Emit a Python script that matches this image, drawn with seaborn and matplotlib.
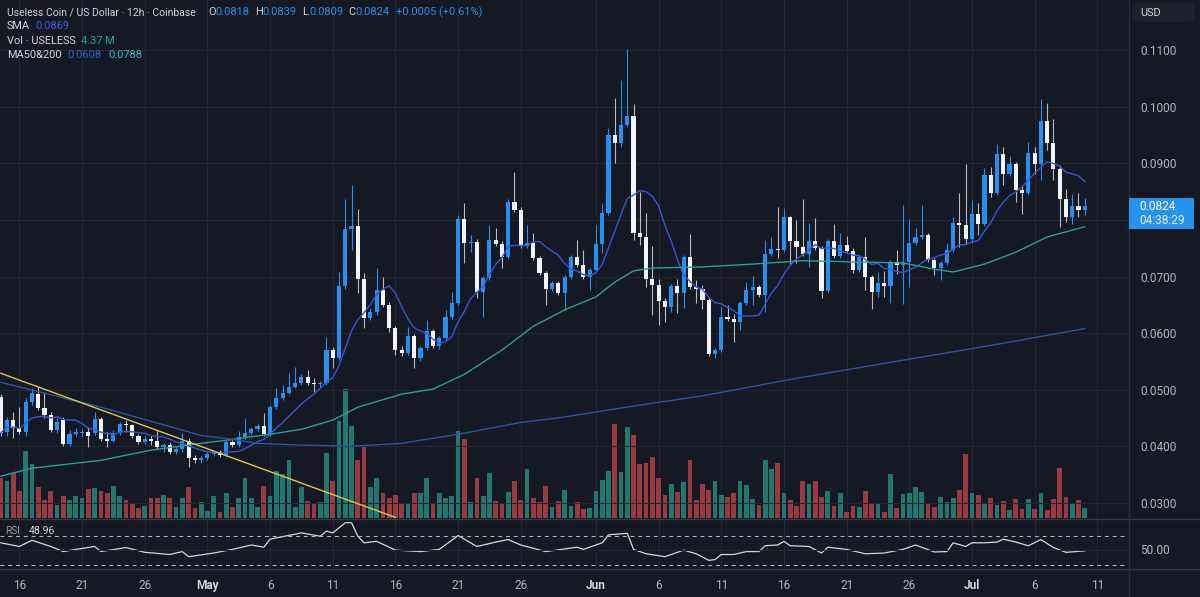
import numpy as np
import pandas as pd
import seaborn as sns
import matplotlib
matplotlib.use("Agg")
import matplotlib.pyplot as plt
from matplotlib.lines import Line2D
from matplotlib.patches import Rectangle, FancyBboxPatch

# ---- USELESS/USD 12h candles, 14 Apr 12:00 -> 10 Jul 00:00 ----
first_candle = "2025-04-14 12:00"

opens = [
    0.0487, 0.0425, 0.0446, 0.0432, 0.0425, 0.0478, 0.0492, 0.0467, 0.0455, 0.0428,
    0.0446, 0.0404, 0.0421, 0.0423, 0.0425, 0.0423, 0.0448, 0.0412, 0.0410, 0.0423,
    0.0439, 0.0437, 0.0418, 0.0407, 0.0412, 0.0410, 0.0398, 0.0402, 0.0389, 0.0395,
    0.0410, 0.0379, 0.0375, 0.0379, 0.0386, 0.0389, 0.0384, 0.0407, 0.0402, 0.0416,
    0.0423, 0.0430, 0.0435, 0.0421, 0.0469, 0.0485, 0.0494, 0.0504, 0.0512, 0.0522,
    0.0512, 0.0510, 0.0512, 0.0570, 0.0556, 0.0683, 0.0784, 0.0789, 0.0696, 0.0627,
    0.0637, 0.0676, 0.0650, 0.0609, 0.0570, 0.0565, 0.0595, 0.0556, 0.0574, 0.0604,
    0.0577, 0.0591, 0.0628, 0.0653, 0.0802, 0.0759, 0.0761, 0.0673, 0.0697, 0.0765,
    0.0758, 0.0735, 0.0832, 0.0818, 0.0754, 0.0759, 0.0733, 0.0706, 0.0678, 0.0689,
    0.0671, 0.0699, 0.0735, 0.0720, 0.0699, 0.0712, 0.0758, 0.0812, 0.0950, 0.0936,
    0.0968, 0.0984, 0.0777, 0.0770, 0.0696, 0.0685, 0.0657, 0.0646, 0.0683, 0.0671,
    0.0735, 0.0681, 0.0678, 0.0658, 0.0563, 0.0570, 0.0628, 0.0625, 0.0619, 0.0653,
    0.0676, 0.0681, 0.0667, 0.0740, 0.0749, 0.0747, 0.0805, 0.0763, 0.0752, 0.0740,
    0.0763, 0.0751, 0.0674, 0.0763, 0.0736, 0.0756, 0.0745, 0.0712, 0.0735, 0.0699,
    0.0673, 0.0689, 0.0683, 0.0726, 0.0720, 0.0726, 0.0759, 0.0770, 0.0773, 0.0729,
    0.0715, 0.0724, 0.0747, 0.0795, 0.0791, 0.0766, 0.0811, 0.0793, 0.0880, 0.0848,
    0.0917, 0.0881, 0.0899, 0.0853, 0.0848, 0.0919, 0.0899, 0.0975, 0.0936, 0.0890,
    0.0837, 0.0805, 0.0825, 0.0818,
]
closes = [
    0.0423, 0.0446, 0.0432, 0.0425, 0.0478, 0.0494, 0.0467, 0.0455, 0.0428, 0.0442,
    0.0404, 0.0421, 0.0425, 0.0425, 0.0418, 0.0448, 0.0412, 0.0410, 0.0423, 0.0439,
    0.0437, 0.0418, 0.0407, 0.0412, 0.0410, 0.0398, 0.0402, 0.0389, 0.0395, 0.0410,
    0.0379, 0.0375, 0.0379, 0.0386, 0.0389, 0.0384, 0.0407, 0.0402, 0.0416, 0.0423,
    0.0430, 0.0435, 0.0421, 0.0469, 0.0485, 0.0494, 0.0504, 0.0512, 0.0522, 0.0512,
    0.0510, 0.0512, 0.0570, 0.0556, 0.0683, 0.0784, 0.0789, 0.0696, 0.0627, 0.0637,
    0.0676, 0.0650, 0.0609, 0.0570, 0.0565, 0.0595, 0.0556, 0.0574, 0.0604, 0.0577,
    0.0591, 0.0628, 0.0653, 0.0802, 0.0759, 0.0761, 0.0673, 0.0697, 0.0765, 0.0758,
    0.0735, 0.0832, 0.0818, 0.0754, 0.0759, 0.0733, 0.0706, 0.0678, 0.0689, 0.0671,
    0.0699, 0.0735, 0.0720, 0.0699, 0.0712, 0.0758, 0.0812, 0.0950, 0.0936, 0.0968,
    0.0984, 0.0777, 0.0770, 0.0696, 0.0685, 0.0657, 0.0646, 0.0683, 0.0671, 0.0735,
    0.0681, 0.0678, 0.0658, 0.0563, 0.0570, 0.0628, 0.0625, 0.0619, 0.0653, 0.0676,
    0.0681, 0.0667, 0.0740, 0.0749, 0.0747, 0.0805, 0.0763, 0.0752, 0.0740, 0.0763,
    0.0751, 0.0674, 0.0763, 0.0736, 0.0756, 0.0745, 0.0712, 0.0735, 0.0699, 0.0673,
    0.0689, 0.0683, 0.0726, 0.0720, 0.0726, 0.0759, 0.0770, 0.0773, 0.0729, 0.0715,
    0.0724, 0.0747, 0.0795, 0.0791, 0.0766, 0.0811, 0.0793, 0.0880, 0.0848, 0.0917,
    0.0881, 0.0899, 0.0853, 0.0848, 0.0919, 0.0899, 0.0975, 0.0936, 0.0890, 0.0837,
    0.0805, 0.0825, 0.0818, 0.0824,
]
highs = [
    0.0492, 0.0451, 0.0460, 0.0469, 0.0485, 0.0503, 0.0504, 0.0496, 0.0460, 0.0450,
    0.0451, 0.0428, 0.0432, 0.0430, 0.0434, 0.0460, 0.0451, 0.0425, 0.0428, 0.0442,
    0.0446, 0.0439, 0.0421, 0.0418, 0.0419, 0.0428, 0.0405, 0.0407, 0.0398, 0.0423,
    0.0414, 0.0384, 0.0382, 0.0389, 0.0393, 0.0393, 0.0411, 0.0411, 0.0427, 0.0450,
    0.0434, 0.0439, 0.0458, 0.0473, 0.0503, 0.0508, 0.0529, 0.0540, 0.0527, 0.0534,
    0.0520, 0.0515, 0.0593, 0.0575, 0.0708, 0.0837, 0.0862, 0.0819, 0.0707, 0.0644,
    0.0715, 0.0699, 0.0655, 0.0612, 0.0577, 0.0611, 0.0598, 0.0577, 0.0623, 0.0607,
    0.0595, 0.0641, 0.0673, 0.0809, 0.0830, 0.0773, 0.0766, 0.0701, 0.0791, 0.0786,
    0.0763, 0.0837, 0.0885, 0.0823, 0.0791, 0.0777, 0.0736, 0.0710, 0.0692, 0.0692,
    0.0703, 0.0738, 0.0765, 0.0747, 0.0715, 0.0791, 0.0830, 0.0963, 0.1016, 0.1048,
    0.1103, 0.1005, 0.0850, 0.0812, 0.0754, 0.0696, 0.0662, 0.0687, 0.0696, 0.0738,
    0.0775, 0.0694, 0.0685, 0.0662, 0.0574, 0.0646, 0.0650, 0.0634, 0.0657, 0.0690,
    0.0701, 0.0685, 0.0765, 0.0770, 0.0823, 0.0821, 0.0807, 0.0800, 0.0837, 0.0795,
    0.0804, 0.0754, 0.0766, 0.0793, 0.0777, 0.0772, 0.0751, 0.0738, 0.0770, 0.0703,
    0.0708, 0.0710, 0.0729, 0.0747, 0.0827, 0.0802, 0.0786, 0.0827, 0.0777, 0.0733,
    0.0728, 0.0759, 0.0805, 0.0848, 0.0899, 0.0835, 0.0830, 0.0892, 0.0894, 0.0935,
    0.0929, 0.0913, 0.0903, 0.0860, 0.0938, 0.0929, 0.1014, 0.1007, 0.0979, 0.0897,
    0.0855, 0.0846, 0.0848, 0.0839,
]
lows = [
    0.0418, 0.0418, 0.0414, 0.0421, 0.0418, 0.0473, 0.0464, 0.0450, 0.0425, 0.0423,
    0.0400, 0.0400, 0.0418, 0.0418, 0.0398, 0.0419, 0.0409, 0.0398, 0.0407, 0.0419,
    0.0425, 0.0414, 0.0404, 0.0404, 0.0402, 0.0395, 0.0389, 0.0386, 0.0386, 0.0389,
    0.0363, 0.0371, 0.0371, 0.0375, 0.0382, 0.0381, 0.0381, 0.0398, 0.0398, 0.0412,
    0.0419, 0.0427, 0.0418, 0.0418, 0.0465, 0.0481, 0.0492, 0.0503, 0.0508, 0.0508,
    0.0496, 0.0503, 0.0508, 0.0538, 0.0552, 0.0678, 0.0747, 0.0671, 0.0609, 0.0623,
    0.0632, 0.0646, 0.0602, 0.0561, 0.0559, 0.0561, 0.0538, 0.0550, 0.0570, 0.0574,
    0.0572, 0.0588, 0.0625, 0.0650, 0.0724, 0.0743, 0.0662, 0.0628, 0.0694, 0.0754,
    0.0715, 0.0731, 0.0814, 0.0751, 0.0751, 0.0729, 0.0703, 0.0650, 0.0674, 0.0667,
    0.0641, 0.0696, 0.0717, 0.0696, 0.0676, 0.0708, 0.0742, 0.0809, 0.0901, 0.0929,
    0.0965, 0.0765, 0.0756, 0.0681, 0.0632, 0.0614, 0.0619, 0.0637, 0.0635, 0.0644,
    0.0678, 0.0653, 0.0643, 0.0559, 0.0556, 0.0566, 0.0621, 0.0584, 0.0605, 0.0650,
    0.0650, 0.0664, 0.0637, 0.0736, 0.0733, 0.0743, 0.0720, 0.0724, 0.0736, 0.0717,
    0.0747, 0.0662, 0.0671, 0.0733, 0.0733, 0.0742, 0.0706, 0.0708, 0.0676, 0.0643,
    0.0664, 0.0664, 0.0653, 0.0704, 0.0651, 0.0681, 0.0756, 0.0766, 0.0726, 0.0703,
    0.0694, 0.0720, 0.0743, 0.0752, 0.0758, 0.0759, 0.0773, 0.0789, 0.0841, 0.0845,
    0.0862, 0.0878, 0.0832, 0.0811, 0.0845, 0.0881, 0.0871, 0.0924, 0.0871, 0.0788,
    0.0797, 0.0793, 0.0805, 0.0809,
]
# volume, millions of USELESS
volumes = [
    18, 16.5, 20, 12, 30, 24, 14, 8, 12, 6,
    10, 8, 10, 9, 13, 13.5, 12, 11, 14.5, 10,
    8, 6.5, 4.5, 5.5, 9, 9, 10.5, 9, 5, 9,
    14, 4.5, 7, 3, 10, 2.5, 11, 5, 9, 18,
    9, 5, 14.5, 10, 21, 19.5, 26, 5, 14, 7.5,
    6.5, 7, 29, 16.5, 43.5, 58, 41, 26, 32, 14,
    18, 11, 9, 10.5, 6.5, 6.5, 11, 11, 18, 6.5,
    11, 9, 10, 39, 35.5, 7, 18, 10, 20, 7.5,
    6.5, 11.5, 16.5, 8, 22, 9, 7, 14.5, 5, 7.5,
    12.7, 5.4, 7.2, 4, 4.4, 12, 16.8, 21, 42, 20.7,
    40.9, 37.2, 24, 24.7, 27.3, 18, 10.5, 15.3, 11.7, 16,
    26, 7.9, 15.2, 12.7, 16.6, 10.5, 9.3, 11, 16.4, 14.6,
    8.3, 5.7, 25.8, 21.9, 24.8, 11.2, 7.9, 5.4, 16.6, 15.3,
    16.6, 9.3, 12.3, 5.4, 11, 2.5, 5.4, 5, 12, 6.6,
    6.4, 2.9, 19.7, 4.7, 10.8, 11.2, 13.7, 11.7, 6.9, 5,
    9.3, 7.2, 9, 12.7, 28.8, 11.2, 10.2, 6.9, 9, 5.8,
    7.6, 3.7, 8.6, 4.2, 8.6, 3.9, 11.2, 3.5, 8.3, 22.6,
    9.3, 6.9, 8, 4.37,
]

# moving averages (candle number -> value)
ma50_candle = [0, 5, 16, 24, 32, 37, 43, 48, 53, 57, 64, 69, 74, 80, 85, 90, 95, 98,
               101, 104, 112, 120, 128, 136, 144, 149, 152, 157, 162, 167, 173]
ma50_value = [0.0347, 0.0361, 0.0375, 0.0393, 0.0405, 0.0412, 0.0421, 0.0430, 0.0446,
              0.0469, 0.0492, 0.0501, 0.0527, 0.0570, 0.0612, 0.0641, 0.0664, 0.0690,
              0.0710, 0.0715, 0.0717, 0.0722, 0.0728, 0.0726, 0.0724, 0.0713, 0.0708,
              0.0722, 0.0743, 0.0770, 0.0788]
ma200_candle = [0, 16, 32, 37, 41, 48, 56, 64, 74, 83, 89, 97, 104, 112, 128, 144, 160, 173]
ma200_value = [0.0513, 0.0469, 0.0419, 0.0412, 0.0405, 0.0402, 0.0400, 0.0405, 0.0423,
               0.0442, 0.0450, 0.0464, 0.0476, 0.0489, 0.0522, 0.0552, 0.0582, 0.0608]

# RSI(14)
rsi_candle = [0, 3, 5, 8, 10, 12, 15, 16, 20, 23, 27, 29, 30, 34, 37, 40, 42, 43, 48, 51,
              52, 53, 55, 56, 57, 58, 60, 63, 67, 70, 73, 76, 79, 81, 83, 87, 92, 93, 96,
              97, 100, 101, 103, 106, 107, 109, 111, 113, 114, 115, 117, 119, 121, 122,
              124, 125, 126, 129, 131, 132, 135, 138, 141, 144, 146, 149, 151, 152, 154,
              155, 157, 159, 160, 162, 164, 166, 168, 170, 173]
rsi_value = [60, 55, 63.5, 55, 48, 51, 55, 48, 53.5, 47, 44, 48, 41, 46, 51, 57, 54, 65,
             73.6, 69, 76, 73.6, 87.5, 87.5, 69, 60, 62, 50, 48, 51, 70, 55, 61, 64.5, 57,
             48, 54, 51, 60, 71, 73, 51, 45, 41, 44, 50, 45, 36, 37, 44, 44, 48, 48, 56,
             57, 62, 56, 55, 46, 54, 51, 45, 46, 51, 57, 47.5, 48, 60, 55, 60, 60, 61, 65,
             61, 56, 64.5, 53.5, 47, 48.96]

# descending trendline drawn on the chart (candle number, price)
trend_candle = [0, 63]
trend_price = [0.0529, 0.0274]

tick_dates = ["2025-04-16", "2025-04-21", "2025-04-26", "2025-05-01", "2025-05-06",
              "2025-05-11", "2025-05-16", "2025-05-21", "2025-05-26", "2025-06-01",
              "2025-06-06", "2025-06-11", "2025-06-16", "2025-06-21", "2025-06-26",
              "2025-07-01", "2025-07-06", "2025-07-11"]
tick_labels = ["16", "21", "26", "May", "6", "11", "16", "21", "26", "Jun",
               "6", "11", "16", "21", "26", "Jul", "6", "11"]
price_ticks = [0.03, 0.04, 0.05, 0.06, 0.07, 0.08, 0.09, 0.10, 0.11]

# ---- colours ----
BG = "#151924"
GRID = "#232733"
UP = "#2590f0"
DOWN = "#f0f3fa"
DOWN_WICK = "#b8bbc3"
VOL_UP = "#22786f"
VOL_DOWN = "#993a40"
TXT = "#d1d4dc"
AXTXT = "#b2b5be"

df = pd.DataFrame({"open": opens, "high": highs, "low": lows,
                   "close": closes, "volume": volumes})
df["time"] = pd.date_range(first_candle, periods=len(df), freq="12h")
df["pos"] = np.arange(len(df))
df["up"] = df["close"] >= df["open"]
df["sma9"] = df["close"].rolling(9, min_periods=1).mean()

t0 = df["time"].iloc[0]
tick_pos = (pd.to_datetime(tick_dates) - t0) / pd.Timedelta("12h")

sns.set_theme(style="dark")
plt.rcParams["font.family"] = ["Roboto", "DejaVu Sans"]

W, H = 1200, 597
fig = plt.figure(figsize=(W / 100, H / 100), dpi=100, facecolor=BG)

def fx(px):
    return px / W

def fy(py):
    return 1 - py / H

pane_w = 1128 / W
axv = fig.add_axes([0, fy(518), pane_w, 518 / H], zorder=0)
ax = fig.add_axes([0, fy(518), pane_w, 518 / H], sharex=axv, zorder=1)
axr = fig.add_axes([0, fy(568), pane_w, 50 / H], sharex=axv, zorder=1)

axv.set_facecolor(BG)
ax.patch.set_visible(False)
axr.set_facecolor(BG)

xlim = (-0.1, 179.9)

# volume
vol_colors = np.where(df["up"], VOL_UP, VOL_DOWN)
axv.bar(df["pos"], df["volume"], width=0.76, color=vol_colors, linewidth=0)
axv.set_ylim(0, 232)
axv.set_yticks([])
axv.set_xlim(*xlim)
for v in tick_pos:
    axv.axvline(v, color=GRID, lw=0.8, zorder=0)
for s in axv.spines.values():
    s.set_visible(False)

# candles
up = df[df["up"]]
dn = df[~df["up"]]
ax.vlines(up["pos"], up["low"], up["high"], color=UP, lw=0.8, zorder=3)
ax.vlines(dn["pos"], dn["low"], dn["high"], color=DOWN_WICK, lw=0.8, zorder=3)
body = np.maximum((df["close"] - df["open"]).abs(), 0.00018)
ax.bar(df["pos"], body, bottom=np.minimum(df["open"], df["close"]), width=0.66,
       color=np.where(df["up"], UP, DOWN), linewidth=0, zorder=4)

# indicator lines
sns.lineplot(x=df["pos"], y=df["sma9"], ax=ax, color="#3556d8", lw=1.0, zorder=5)
sns.lineplot(x=ma50_candle, y=ma50_value, ax=ax, color="#27a096", lw=1.0, zorder=5)
sns.lineplot(x=ma200_candle, y=ma200_value, ax=ax, color="#2a56a8", lw=1.0, zorder=5)
sns.lineplot(x=trend_candle, y=trend_price, ax=ax, color="#dcc54c", lw=1.0, zorder=6)

ax.set_xlim(*xlim)
ax.set_ylim(0.0273, 0.1189)
ax.set_xlabel("")
ax.set_ylabel("")
ax.yaxis.tick_right()
ax.set_yticks(price_ticks)
ax.set_yticklabels([("" if abs(p - 0.08) < 1e-9 else f"{p:.4f}") for p in price_ticks])
ax.tick_params(axis="y", length=0, pad=9, labelsize=8.6, labelcolor=AXTXT)
ax.grid(axis="y", color=GRID, lw=0.8)
ax.grid(axis="x", visible=False)
for s in ax.spines.values():
    s.set_visible(False)

# RSI pane
sns.lineplot(x=rsi_candle, y=rsi_value, ax=axr, color="#d6d8de", lw=0.9)
for lvl in (70, 30):
    axr.axhline(lvl, color="#b2b5be", lw=0.8, ls=(0, (3.5, 3.5)))
axr.axhline(50, color=GRID, lw=0.8)
for v in tick_pos:
    axr.axvline(v, color=GRID, lw=0.8, zorder=0)
axr.set_ylim(25.5, 94)
axr.set_xlim(*xlim)
axr.set_yticks([])
axr.set_xlabel("")
axr.set_ylabel("")
axr.set_xticks(tick_pos)
axr.set_xticklabels(tick_labels)
axr.tick_params(axis="x", length=0, pad=8, labelsize=8.6, labelcolor=AXTXT)
for lab in axr.get_xticklabels():
    if lab.get_text() in ("May", "Jun", "Jul"):
        lab.set_fontweight("bold")
        lab.set_color(TXT)
for s in axr.spines.values():
    s.set_visible(False)

# only the bottom pane carries date labels
axv.tick_params(axis="x", length=0, labelbottom=False)
ax.tick_params(axis="x", length=0, labelbottom=False)

# pane separators
for py in (518.5, 568.5):
    fig.add_artist(Line2D([0, 1], [fy(py), fy(py)], color="#363a45", lw=1.0))
fig.add_artist(Line2D([fx(1128.5), fx(1128.5)], [0, 1], color="#2a2e39", lw=1.0))

# header legend
hs = 7.9
def put(x, y, s, c=TXT, size=hs, **kw):
    fig.text(fx(x), fy(y), s, color=c, fontsize=size, va="center", ha="left", **kw)

put(7, 12, "Useless Coin / US Dollar · 12h · Coinbase", size=7.5)
for x, lab, val in [(208, "O", "0.0818"), (255, "H", "0.0839"),
                    (302, "L", "0.0809"), (348, "C", "0.0824")]:
    put(x, 12, lab)
    put(x + 7, 12, val, UP)
put(396, 12, "+0.0005 (+0.61%)", UP)
put(7, 26, "SMA")
put(35, 26, "0.0869", "#3a5ee0")
put(7, 41, "Vol · USELESS")
put(81, 41, "4.37 M", "#22a896")
put(7, 55, "MA50&200")
put(67, 55, "0.0608", "#2c64c8")
put(108, 55, "0.0788", "#2bbccc")

# RSI legend and right labels
put(5, 531, "RSI", "#9598a1", size=7.2)
put(29, 531, "48.96", size=7.6)
fig.text(fx(1140), fy(550), "50.00", color=AXTXT, fontsize=8.6, va="center", ha="left")

# USD box
fig.add_artist(FancyBboxPatch((fx(1133), fy(22)), fx(61), 19 / H,
                              boxstyle="round,pad=0,rounding_size=0.004",
                              facecolor="#1e222d", edgecolor="none"))
fig.text(fx(1140), fy(12.5), "USD", color=TXT, fontsize=7.8, va="center", ha="left")

# last price label
fig.add_artist(Rectangle((fx(1129), fy(229)), fx(65), 31 / H,
                         facecolor="#2592f0", edgecolor="none", zorder=10))
fig.text(fx(1139), fy(206), "0.0824", color="white", fontsize=8.6,
         va="center", ha="left", zorder=11)
fig.text(fx(1139), fy(220.5), "04:38:29", color="#e6f0fc", fontsize=8.6,
         va="center", ha="left", zorder=11)

fig.savefig("out.png", dpi=100, facecolor=BG)
